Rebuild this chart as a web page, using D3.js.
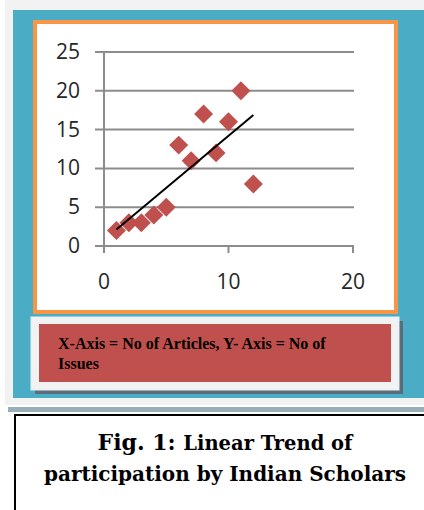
<!DOCTYPE html>
<html>
<head>
    <script src="https://d3js.org/d3.v7.min.js"></script>
    <style>
        body {margin: 0; background: white;}
        svg {display: block;}
        .tick-label {font-family: "Open Sans", sans-serif; font-size: 21px; fill: #262626;}
    </style>
</head>
<body>
    <svg width="424" height="510"></svg>
    <script>
        // No of articles vs no of issues
        let articles = [1, 2, 3, 4, 5, 6, 7, 8, 9, 10, 11, 12];
        let issues   = [2, 3, 3, 4, 5, 13, 11, 17, 12, 16, 20, 8];
        let yTicks = [0, 5, 10, 15, 20, 25];
        let xTicks = [0, 10, 20];

        let svg = d3.select("svg");

        // page background and teal panel
        svg.append("rect").attr("x", 5).attr("y", 0).attr("width", 419).attr("height", 405).attr("fill", "#f2f2f2");
        svg.append("rect").attr("x", 13).attr("y", 10).attr("width", 411).attr("height", 388).attr("fill", "#4bacc6");
        svg.append("rect").attr("x", 8).attr("y", 407).attr("width", 416).attr("height", 5).attr("fill", "#98afba");

        // chart box with orange frame
        svg.append("rect").attr("x", 35).attr("y", 22).attr("width", 361).attr("height", 290)
            .attr("fill", "white").attr("stroke", "#f79646").attr("stroke-width", 4);

        let x = d3.scaleLinear().domain([0, 20]).range([104, 353]);
        let y = d3.scaleLinear().domain([0, 25]).range([246, 52]);

        // horizontal gridlines
        svg.selectAll(".grid")
            .data(yTicks)
            .enter()
            .append("line")
            .attr("x1", 95).attr("x2", 354)
            .attr("y1", d => y(d)).attr("y2", d => y(d))
            .attr("stroke", "#8c8c8c").attr("stroke-width", 2);

        // y axis line
        svg.append("line").attr("x1", x(0)).attr("x2", x(0))
            .attr("y1", y(25)).attr("y2", y(0) + 7)
            .attr("stroke", "#8c8c8c").attr("stroke-width", 2);

        // x axis ticks
        svg.selectAll(".xtick")
            .data(xTicks)
            .enter()
            .append("line")
            .attr("x1", d => x(d)).attr("x2", d => x(d))
            .attr("y1", y(0)).attr("y2", y(0) + 7)
            .attr("stroke", "#8c8c8c").attr("stroke-width", 2);

        svg.selectAll(".ylab")
            .data(yTicks)
            .enter()
            .append("text")
            .attr("class", "tick-label")
            .attr("x", 80)
            .attr("y", d => y(d) + 7)
            .attr("text-anchor", "end")
            .text(d => d);

        svg.selectAll(".xlab")
            .data(xTicks)
            .enter()
            .append("text")
            .attr("class", "tick-label")
            .attr("x", d => x(d))
            .attr("y", 289)
            .attr("text-anchor", "middle")
            .text(d => d);

        // diamonds
        let diamond = d3.symbol().type(d3.symbolSquare).size(180);
        svg.selectAll(".pt")
            .data(articles)
            .enter()
            .append("path")
            .attr("d", diamond)
            .attr("fill", "#c0504d")
            .attr("transform", (d, i) => "translate(" + x(d) + "," + y(issues[i]) + ") rotate(45)");

        // least squares trend line
        let mx = d3.mean(articles), my = d3.mean(issues);
        let sxy = d3.sum(articles, (d, i) => (d - mx) * (issues[i] - my));
        let sxx = d3.sum(articles, d => (d - mx) * (d - mx));
        let slope = sxy / sxx, icept = my - slope * mx;
        let x0 = d3.min(articles), x1 = d3.max(articles);
        svg.append("line")
            .attr("x1", x(x0)).attr("y1", y(icept + slope * x0))
            .attr("x2", x(x1)).attr("y2", y(icept + slope * x1))
            .attr("stroke", "black").attr("stroke-width", 2);

        // axis caption box
        svg.append("rect").attr("x", 35).attr("y", 321).attr("width", 368).attr("height", 73).attr("fill", "#5b6d7a");
        svg.append("rect").attr("x", 31).attr("y", 317).attr("width", 368).attr("height", 73)
            .attr("fill", "#f2f2f2").attr("stroke", "#e4f1f5").attr("stroke-width", 1);
        svg.append("rect").attr("x", 39).attr("y", 324).attr("width", 352).attr("height", 58).attr("fill", "#c0504d");
        let cap = svg.append("text")
            .attr("font-family", "'Liberation Serif', 'Times New Roman', serif")
            .attr("font-weight", "bold").attr("font-size", 16).attr("fill", "black");
        cap.append("tspan").attr("x", 58).attr("y", 349).text("X-Axis = No of Articles, Y- Axis = No of");
        cap.append("tspan").attr("x", 58).attr("y", 369).text("Issues");

        // figure caption
        svg.append("rect").attr("x", 15).attr("y", 415).attr("width", 430).attr("height", 110)
            .attr("fill", "white").attr("stroke", "black").attr("stroke-width", 2);
        let fig = svg.append("text")
            .attr("font-family", "'DejaVu Serif', serif")
            .attr("font-weight", "bold").attr("fill", "black")
            .attr("text-anchor", "middle");
        let l1 = fig.append("tspan").attr("x", 225).attr("y", 450);
        l1.append("tspan").attr("font-size", 22).text("Fig. 1: ");
        l1.append("tspan").attr("font-size", 19.5).text("Linear Trend of");
        fig.append("tspan").attr("x", 225).attr("y", 481).attr("font-size", 20).text("participation by Indian Scholars");
    </script>
</body>
</html>
